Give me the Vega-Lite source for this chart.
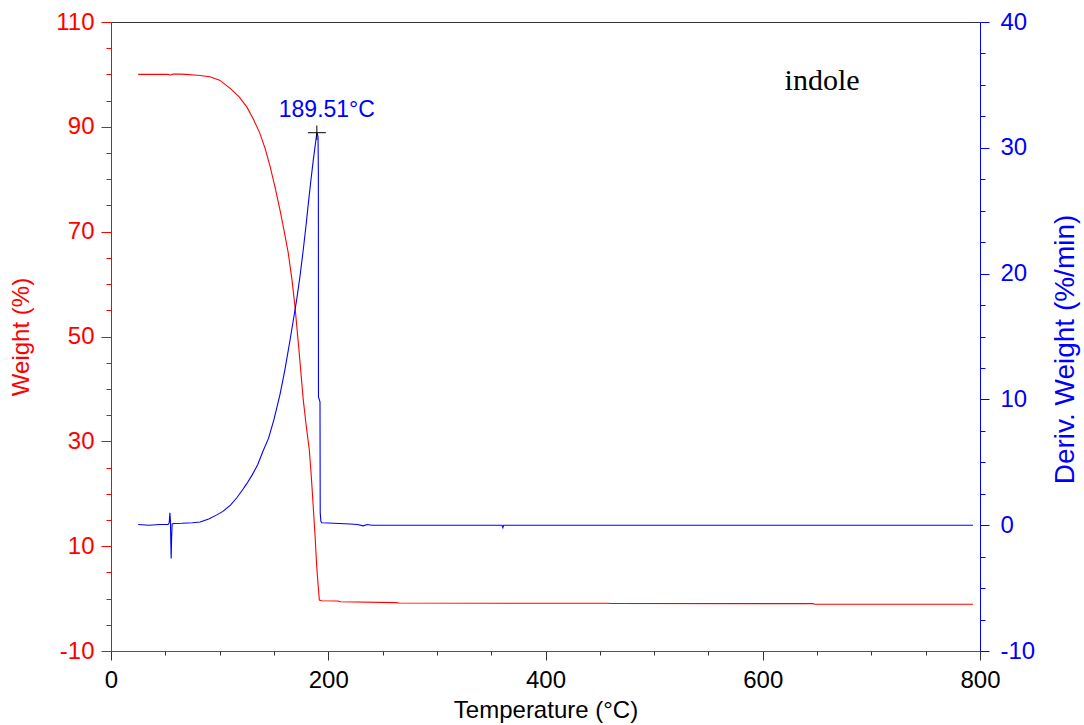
{
  "$schema": "https://vega.github.io/schema/vega-lite/v6.json",
  "width": 869,
  "height": 629,
  "autosize": "none",
  "padding": {"left": 111, "top": 22, "right": 104, "bottom": 74},
  "background": "white",
  "config": {
    "view": {"stroke": "#333333", "strokeWidth": 1},
    "font": "Liberation Sans",
    "axis": {
      "grid": false,
      "labelFont": "Liberation Sans",
      "titleFont": "Liberation Sans",
      "labelFontSize": 24,
      "titleFontSize": 24,
      "titleFontWeight": "normal",
      "zindex": 1,
      "labelOverlap": false,
      "labelFlush": false,
      "labelBound": false,
      "tickWidth": 1,
      "domainWidth": 1
    }
  },
  "datasets": {
    "weight": [
      {"T": 25, "W": 100.0}, {"T": 40, "W": 100.0}, {"T": 52, "W": 100.0},
      {"T": 55, "W": 99.9}, {"T": 57, "W": 100.05}, {"T": 65, "W": 100.05},
      {"T": 80, "W": 99.85}, {"T": 91, "W": 99.55}, {"T": 100, "W": 98.9},
      {"T": 110, "W": 97.3}, {"T": 118, "W": 95.7}, {"T": 125, "W": 93.8},
      {"T": 131, "W": 91.5}, {"T": 137, "W": 88.8}, {"T": 142, "W": 85.8},
      {"T": 146.5, "W": 82.4}, {"T": 151, "W": 78.5}, {"T": 155.6, "W": 74.1},
      {"T": 159.5, "W": 70.0}, {"T": 163.2, "W": 65.9}, {"T": 166.5, "W": 61.0},
      {"T": 169.4, "W": 55.7}, {"T": 173, "W": 47.5}, {"T": 177, "W": 37.9},
      {"T": 180, "W": 32.5}, {"T": 182.6, "W": 28.3}, {"T": 184.5, "W": 23.0},
      {"T": 186.2, "W": 17.5}, {"T": 188, "W": 11.5}, {"T": 189.4, "W": 6.1},
      {"T": 190.7, "W": 2.5}, {"T": 191.8, "W": -0.27}, {"T": 194, "W": -0.4},
      {"T": 209, "W": -0.45}, {"T": 211, "W": -0.6}, {"T": 262, "W": -0.78},
      {"T": 265, "W": -0.85}, {"T": 457, "W": -0.9}, {"T": 460, "W": -0.95},
      {"T": 646, "W": -0.97}, {"T": 648, "W": -1.09}, {"T": 793.5, "W": -1.09}
    ],
    "deriv": [
      {"T": 25, "D": 0.05}, {"T": 35, "D": 0.0}, {"T": 45, "D": 0.05},
      {"T": 52.5, "D": 0.05}, {"T": 53.6, "D": 0.2}, {"T": 54.2, "D": 0.98},
      {"T": 54.7, "D": 0.4}, {"T": 55.1, "D": -1.5}, {"T": 55.4, "D": -2.65},
      {"T": 55.8, "D": -1.0}, {"T": 56.3, "D": 0.1}, {"T": 58, "D": 0.13},
      {"T": 65, "D": 0.15}, {"T": 75, "D": 0.2}, {"T": 82, "D": 0.26},
      {"T": 90, "D": 0.5}, {"T": 97, "D": 0.8}, {"T": 103, "D": 1.1},
      {"T": 110, "D": 1.6}, {"T": 116, "D": 2.2}, {"T": 121, "D": 2.8},
      {"T": 125, "D": 3.3}, {"T": 130, "D": 4.0}, {"T": 135, "D": 4.8},
      {"T": 140, "D": 5.9}, {"T": 145, "D": 6.9}, {"T": 150, "D": 8.4},
      {"T": 155.6, "D": 10.4}, {"T": 160, "D": 12.3}, {"T": 164.8, "D": 14.7},
      {"T": 170.9, "D": 17.9}, {"T": 174, "D": 19.8}, {"T": 177, "D": 21.9},
      {"T": 179.5, "D": 23.8}, {"T": 181.7, "D": 25.6}, {"T": 184, "D": 27.4},
      {"T": 186.2, "D": 29.0}, {"T": 188, "D": 30.2}, {"T": 189.51, "D": 31.2},
      {"T": 190.6, "D": 30.9}, {"T": 190.9, "D": 28.0}, {"T": 191.0, "D": 10.2},
      {"T": 192.4, "D": 9.8}, {"T": 192.6, "D": 1.0}, {"T": 193.2, "D": 0.3},
      {"T": 194, "D": 0.2}, {"T": 200, "D": 0.18}, {"T": 220, "D": 0.1},
      {"T": 227, "D": 0.05}, {"T": 232, "D": -0.05}, {"T": 236, "D": 0.05},
      {"T": 240, "D": 0.0}, {"T": 360, "D": 0.0}, {"T": 360.8, "D": -0.2},
      {"T": 361.5, "D": 0.0}, {"T": 793.5, "D": 0.0}
    ]
  },
  "layer": [
    {
      "data": {"name": "weight"},
      "mark": {"type": "line", "color": "#ff0000", "strokeWidth": 1.1},
      "encoding": {
        "x": {
          "field": "T",
          "type": "quantitative",
          "scale": {"domain": [0, 800], "nice": false, "zero": false},
          "axis": {
            "orient": "bottom",
            "title": "Temperature (°C)",
            "values": [0, 200, 400, 600, 800],
            "labelExpr": "toString(datum.value)",
            "tickSize": 9,
            "labelPadding": 8,
            "domainColor": "#555555",
            "tickColor": "#333333",
            "labelColor": "#000000",
            "titleColor": "#000000",
            "titlePadding": 6
          }
        },
        "y": {
          "field": "W",
          "type": "quantitative",
          "scale": {"domain": [-10, 110], "nice": false, "zero": false},
          "axis": {
            "orient": "left",
            "title": "Weight (%)",
            "values": [-10, 10, 30, 50, 70, 90, 110],
            "labelExpr": "toString(datum.value)",
            "tickSize": 10,
            "labelPadding": 7,
            "domainColor": "#ff0000",
            "tickColor": "#ff0000",
            "labelColor": "#ff0000",
            "titleColor": "#ff0000",
            "titlePadding": 22
          }
        }
      }
    },
    {
      "data": {"values": [{"label": "indole", "T": 654.6, "W": 97.0}]},
      "mark": {"type": "text", "font": "Liberation Serif", "fontSize": 30, "align": "center", "baseline": "alphabetic", "color": "#000000"},
      "encoding": {
        "x": {
          "field": "T",
          "type": "quantitative",
          "scale": {"domain": [0, 800], "nice": false, "zero": false},
          "axis": {
            "orient": "bottom",
            "title": null,
            "labels": false,
            "domain": false,
            "values": [50, 100, 150, 250, 300, 350, 450, 500, 550, 650, 700, 750],
            "tickSize": 4,
            "tickColor": "#333333"
          }
        },
        "y": {
          "field": "W",
          "type": "quantitative",
          "scale": {"domain": [-10, 110], "nice": false, "zero": false},
          "axis": {
            "orient": "left",
            "title": null,
            "labels": false,
            "domain": false,
            "values": [-5, 0, 5, 15, 20, 25, 35, 40, 45, 55, 60, 65, 75, 80, 85, 95, 100, 105],
            "tickSize": 5,
            "tickColor": "#ff0000"
          }
        },
        "text": {"field": "label"}
      }
    },
    {
      "data": {"name": "deriv"},
      "mark": {"type": "line", "color": "#0000ff", "strokeWidth": 1.1},
      "encoding": {
        "x": {"field": "T", "type": "quantitative", "scale": {"domain": [0, 800], "nice": false, "zero": false}, "axis": null},
        "y": {
          "field": "D",
          "type": "quantitative",
          "scale": {"domain": [-10, 40], "nice": false, "zero": false},
          "axis": {
            "orient": "right",
            "title": "Deriv. Weight (%/min)",
            "values": [-10, 0, 10, 20, 30, 40],
            "labelExpr": "toString(datum.value)",
            "tickSize": 9,
            "labelPadding": 11,
            "domainColor": "#0000ff",
            "tickColor": "#0000ff",
            "labelColor": "#0000ff",
            "titleColor": "#0000ff",
            "titleAngle": -90,
            "titleFontSize": 28,
            "titleY": 327,
            "titlePadding": 45
          }
        }
      }
    },
    {
      "data": {"values": [{"T": 189.51, "D": 31.2, "label": "189.51°C"}]},
      "encoding": {
        "x": {"field": "T", "type": "quantitative", "scale": {"domain": [0, 800], "nice": false, "zero": false}, "axis": null},
        "y": {
          "field": "D",
          "type": "quantitative",
          "scale": {"domain": [-10, 40], "nice": false, "zero": false},
          "axis": {
            "orient": "right",
            "title": null,
            "labels": false,
            "domain": false,
            "values": [-7.5, -5, -2.5, 2.5, 5, 7.5, 12.5, 15, 17.5, 22.5, 25, 27.5, 32.5, 35, 37.5],
            "tickSize": 5,
            "tickColor": "#0000ff"
          }
        }
      },
      "layer": [
        {
          "mark": {"type": "point", "shape": "M-1,0H1M0,-0.8V0.8", "size": 324, "filled": false, "stroke": "#000000", "strokeWidth": 1, "opacity": 1}
        },
        {
          "mark": {"type": "text", "align": "center", "baseline": "alphabetic", "dx": 10, "dy": -16, "fontSize": 23, "font": "Liberation Sans", "color": "#0000ff"},
          "encoding": {"text": {"field": "label"}}
        }
      ]
    }
  ],
  "resolve": {
    "scale": {"y": "independent"},
    "axis": {"x": "independent", "y": "independent"}
  }
}
